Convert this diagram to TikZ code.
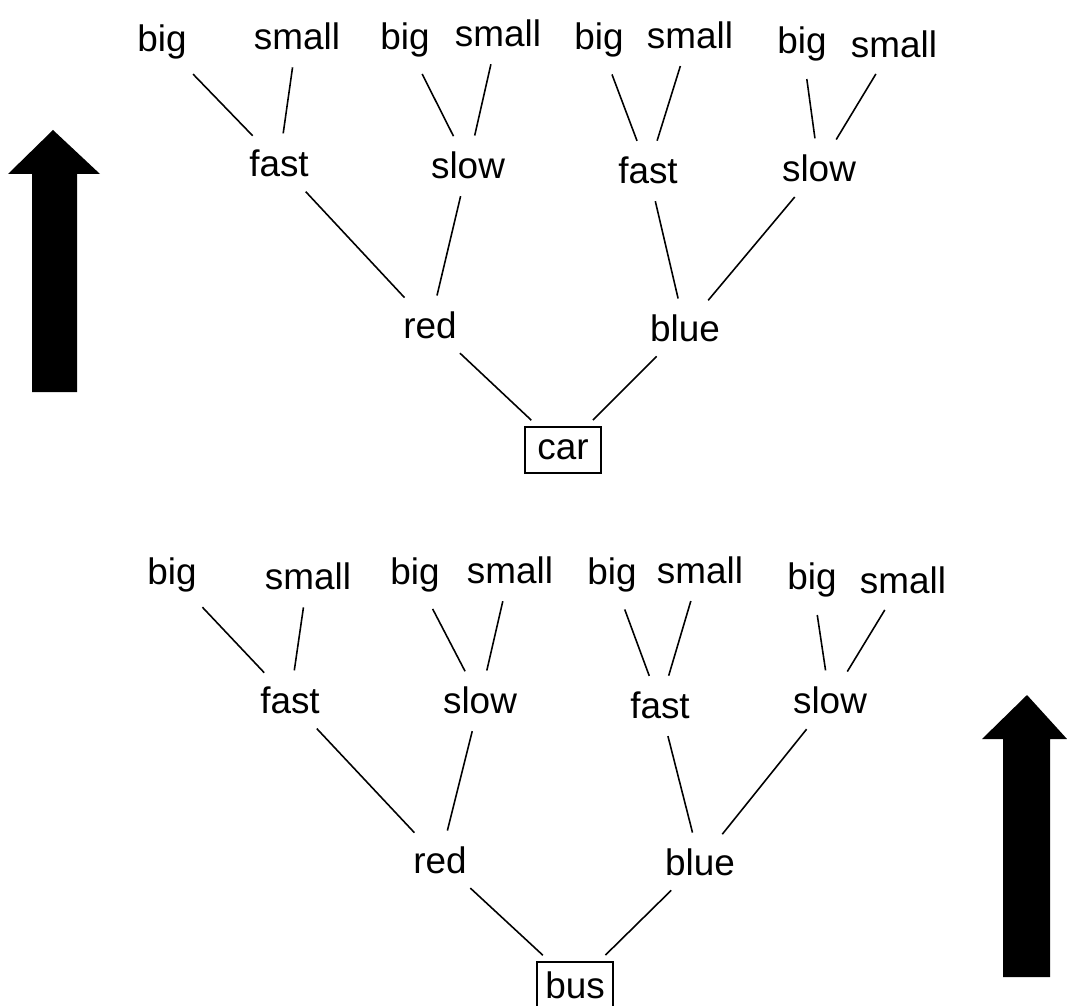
\documentclass[tikz,border=0pt]{standalone}
\usepackage{fontspec}
\setmainfont{Liberation Sans}
\usepackage{tikz}

\tikzset{
	word/.style={font=\fontsize{21}{24}\selectfont, inner sep=4pt},
	rootbox/.style={word, draw, line width=0.9pt, minimum width=1.52cm, minimum height=0.92cm},
	branch/.style={line width=0.9pt, shorten <=6pt, shorten >=5pt}
}

\begin{document}
\begin{tikzpicture}[x=0.02cm, y=-0.02cm]
	\useasboundingbox (0,0) rectangle (1067,1006);
	% upper tree
	\node[word] (Ab1) at (162,42){big};
	\node[word] (As1) at (297,36){small};
	\node[word] (Ab2) at (405,40){big};
	\node[word] (As2) at (498,33){small};
	\node[word] (Ab3) at (599,40){big};
	\node[word] (As3) at (690,35){small};
	\node[word] (Ab4) at (802,44){big};
	\node[word] (As4) at (894,44){small};
	\node[word] (Af1) at (279,163){fast};
	\node[word] (Asl1) at (468,165){slow};
	\node[word] (Af2) at (648,170){fast};
	\node[word] (Asl2) at (819,168){slow};
	\node[word] (Ar) at (430,325){red};
	\node[word] (Abl) at (685,328){blue};
	\node[rootbox] (car) at (563,450){car};
	\draw [branch] (Ab1) -- (Af1);
	\draw [branch] (As1) -- (Af1);
	\draw [branch] (Ab2) -- (Asl1);
	\draw [branch] (As2) -- (Asl1);
	\draw [branch] (Ab3) -- (Af2);
	\draw [branch] (As3) -- (Af2);
	\draw [branch] (Ab4) -- (Asl2);
	\draw [branch] (As4) -- (Asl2);
	\draw [branch] (Af1) -- (Ar);
	\draw [branch] (Asl1) -- (Ar);
	\draw [branch] (Af2) -- (Abl);
	\draw [branch] (Asl2) -- (Abl);
	\draw [branch] (Ar) -- (car);
	\draw [branch] (Abl) -- (car);
	% lower tree
	\node[word] (Bb1) at (172,575){big};
	\node[word] (Bs1) at (308,576){small};
	\node[word] (Bb2) at (415,575){big};
	\node[word] (Bs2) at (510,570){small};
	\node[word] (Bb3) at (612,575){big};
	\node[word] (Bs3) at (700,570){small};
	\node[word] (Bb4) at (812,580){big};
	\node[word] (Bs4) at (903,580){small};
	\node[word] (Bf1) at (290,700){fast};
	\node[word] (Bsl1) at (480,700){slow};
	\node[word] (Bf2) at (660,705){fast};
	\node[word] (Bsl2) at (830,700){slow};
	\node[word] (Br) at (440,860){red};
	\node[word] (Bbl) at (700,862){blue};
	\node[rootbox] (bus) at (575,985){bus};
	\draw [branch] (Bb1) -- (Bf1);
	\draw [branch] (Bs1) -- (Bf1);
	\draw [branch] (Bb2) -- (Bsl1);
	\draw [branch] (Bs2) -- (Bsl1);
	\draw [branch] (Bb3) -- (Bf2);
	\draw [branch] (Bs3) -- (Bf2);
	\draw [branch] (Bb4) -- (Bsl2);
	\draw [branch] (Bs4) -- (Bsl2);
	\draw [branch] (Bf1) -- (Br);
	\draw [branch] (Bsl1) -- (Br);
	\draw [branch] (Bf2) -- (Bbl);
	\draw [branch] (Bsl2) -- (Bbl);
	\draw [branch] (Br) -- (bus);
	\draw [branch] (Bbl) -- (bus);
	% big arrows
	\fill (53,130) -- (100,174) -- (77,174) -- (77,392) -- (32,392) -- (32,174) -- (8,174) -- cycle;
	\fill (1027,695) -- (1067,739) -- (1050,739) -- (1050,977) -- (1003,977) -- (1003,739) -- (982,739) -- cycle;
\end{tikzpicture}
\end{document}
